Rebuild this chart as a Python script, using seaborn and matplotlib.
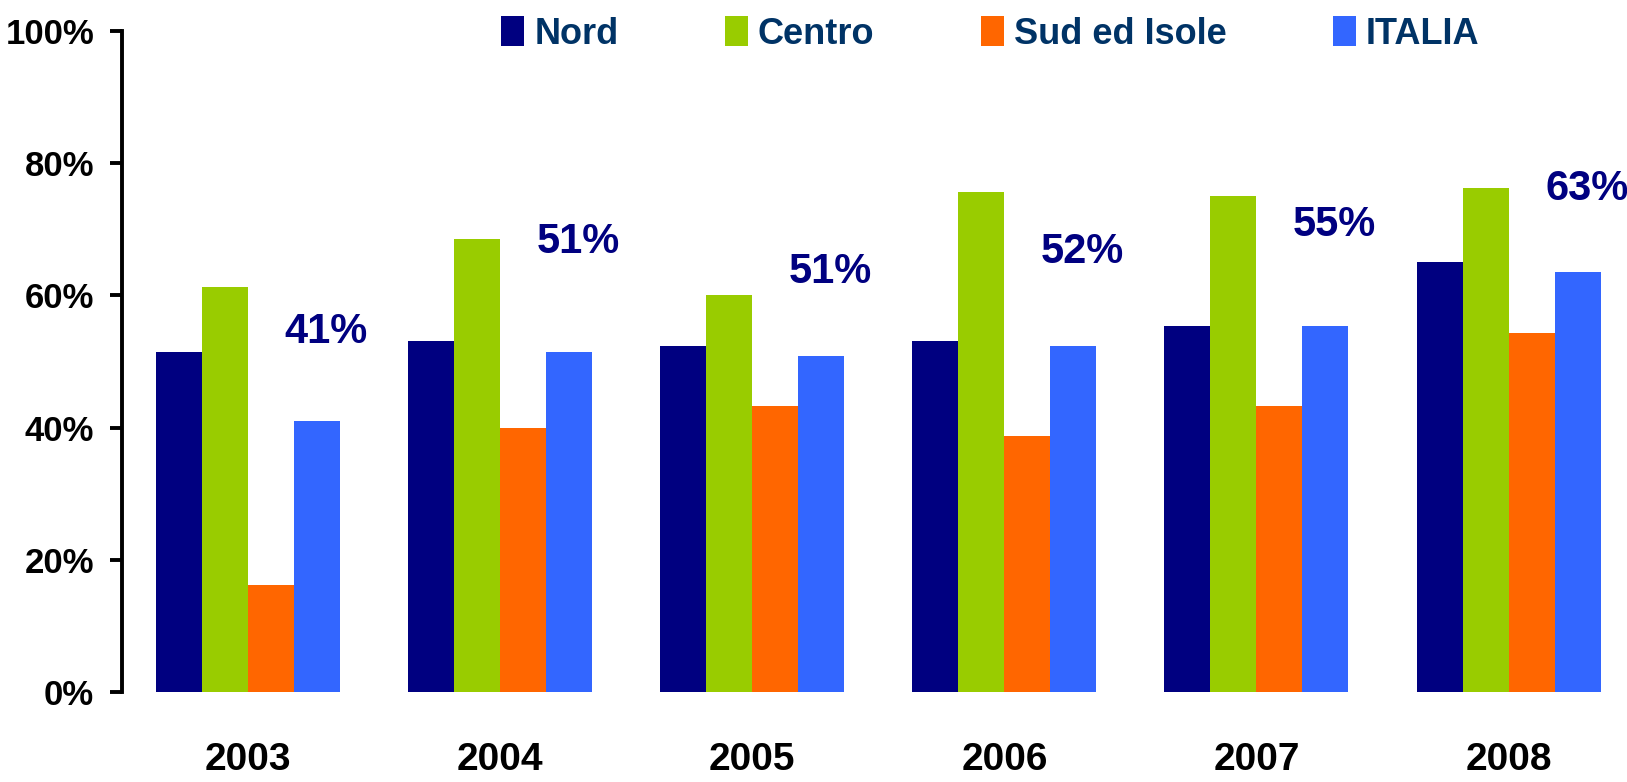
import matplotlib

matplotlib.use("Agg")
import matplotlib.pyplot as plt
import pandas as pd
import seaborn as sns
from matplotlib.patches import Patch

years = ["2003", "2004", "2005", "2006", "2007", "2008"]
regions = ["Nord", "Centro", "Sud ed Isole", "ITALIA"]
nord = [51.5, 53.1, 52.4, 53.1, 55.4, 65.1]
centro = [61.2, 68.6, 60.0, 75.7, 75.0, 76.3]
sud = [16.2, 39.9, 43.3, 38.8, 43.3, 54.3]
italia = [41.0, 51.5, 50.9, 52.4, 55.4, 63.6]
italia_labels = ["41%", "51%", "51%", "52%", "55%", "63%"]

colors = ["#000080", "#99CC00", "#FF6600", "#3366FF"]
label_y = [54.5, 68.1, 63.6, 66.6, 70.6, 76.1]

df = pd.DataFrame(
    {
        "year": years * 4,
        "region": [r for r in regions for _ in years],
        "value": nord + centro + sud + italia,
    }
)

sns.set_theme(style="white")
plt.rcParams["font.family"] = ["Liberation Sans", "DejaVu Sans"]
plt.rcParams["font.weight"] = "bold"

fig = plt.figure(figsize=(16.27, 7.82), dpi=100)
ax = fig.add_axes([0.075, 0.1151, 0.925, 0.8453])

sns.barplot(
    data=df,
    x="year",
    y="value",
    hue="region",
    hue_order=regions,
    palette=colors,
    saturation=1,
    width=0.73,
    linewidth=0,
    edgecolor="none",
    legend=False,
    ax=ax,
)

ax.set_xlim(-0.5, 5.47)
ax.set_ylim(0, 100)
ax.set_yticks([0, 20, 40, 60, 80, 100])
ax.set_yticklabels([f"{t}%" for t in range(0, 101, 20)])
ax.set_xlabel("")
ax.set_ylabel("")

for side in ["top", "right", "bottom"]:
    ax.spines[side].set_visible(False)
ax.spines["left"].set_linewidth(2.8)
ax.spines["left"].set_color("black")

ax.tick_params(axis="y", length=9, width=2.8, pad=11, labelsize=25, direction="out",
               left=True, colors="black")
ax.tick_params(axis="x", length=0, pad=36, labelsize=28, colors="black")
for lbl in ax.get_xticklabels() + ax.get_yticklabels():
    lbl.set_fontweight("bold")

for i, txt in enumerate(italia_labels):
    ax.text(
        i + 0.31,
        label_y[i],
        txt,
        ha="center",
        va="center",
        fontsize=30,
        fontweight="bold",
        color="#000080",
        clip_on=False,
    )

handles = [Patch(facecolor=c, edgecolor="none") for c in colors]
leg = fig.legend(
    handles,
    regions,
    loc="center left",
    bbox_to_anchor=(501 / 1627, 1 - 34 / 782),
    ncol=4,
    frameon=False,
    fontsize=26,
    handlelength=0.64,
    handleheight=0.86,
    handletextpad=0.28,
    columnspacing=2.94,
    borderaxespad=0,
    borderpad=0,
)
for t in leg.get_texts():
    t.set_color("#003366")
    t.set_fontweight("bold")

fig.savefig("out.png", dpi=100)
